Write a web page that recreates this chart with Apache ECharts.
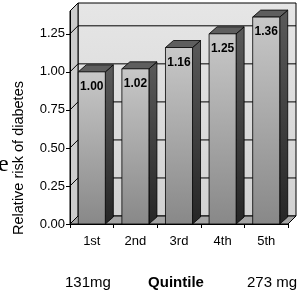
<!DOCTYPE html>
<html>
<head>
    <meta charset="utf-8" />
    <title></title>
    <style>
        html, body { margin: 0; padding: 0; background: #fff; }
        #barchart { width: 301px; height: 296px; }
    </style>
</head>
<body>
    <div id="barchart"></div>
    <script src="https://cdn.jsdelivr.net/npm/echarts@6/dist/echarts.min.js"></script>
    <script>
        var quintiles = ['1st', '2nd', '3rd', '4th', '5th'];
        var risks = [1.00, 1.02, 1.16, 1.25, 1.36];
        var yTicks = [0, 0.25, 0.5, 0.75, 1.0, 1.25];

        var FONT = '"Liberation Sans", Arial, sans-serif';
        // depth of the box (walls) and of the bars
        var WX = 8, WY = -8;
        var BX = 8, BY = -7;

        function renderWalls(params, api) {
            var cs = params.coordSys;
            var x0 = cs.x, x1 = cs.x + cs.width;
            var y0 = api.coord([0, 0])[1], yt = cs.y;
            var kids = [];
            // back wall
            kids.push({
                type: 'polygon',
                shape: { points: [[x0 + WX, yt + WY], [x1 + WX, yt + WY], [x1 + WX, y0 + WY], [x0 + WX, y0 + WY]] },
                style: {
                    fill: new echarts.graphic.LinearGradient(0, 0, 0, 1, [
                        { offset: 0, color: '#e6e6e6' }, { offset: 1, color: '#d2d2d2' }]),
                    stroke: '#000', lineWidth: 1
                }
            });
            // left wall
            kids.push({
                type: 'polygon',
                shape: { points: [[x0, y0], [x0, yt], [x0 + WX, yt + WY], [x0 + WX, y0 + WY]] },
                style: { fill: '#cccccc', stroke: '#000', lineWidth: 1 }
            });
            // floor
            kids.push({
                type: 'polygon',
                shape: { points: [[x0, y0], [x1, y0], [x1 + WX, y0 + WY], [x0 + WX, y0 + WY]] },
                style: { fill: '#a4a4a4', stroke: '#000', lineWidth: 1 }
            });
            // gridlines
            yTicks.forEach(function (v) {
                if (v === 0) return;
                var y = api.coord([0, v])[1];
                kids.push({
                    type: 'polyline',
                    shape: { points: [[x0, y], [x0 + WX, y + WY], [x1 + WX, y + WY]] },
                    style: { stroke: '#000', lineWidth: 1, fill: null }
                });
            });
            return { type: 'group', children: kids };
        }

        function renderBar(params, api) {
            var top = api.coord([api.value(0), api.value(1)]);
            var base = api.coord([api.value(0), 0]);
            var w = api.size([1, 0])[0] * 0.62;
            var l = top[0] - w / 2, r = top[0] + w / 2;
            var t = top[1], b = base[1];
            var edge = { stroke: '#000', lineWidth: 0.8 };
            return {
                type: 'group',
                children: [{
                    type: 'polygon',
                    shape: { points: [[r, t], [r + BX, t + BY], [r + BX, b + BY], [r, b]] },
                    style: Object.assign({
                        fill: new echarts.graphic.LinearGradient(0, 0, 0, 1, [
                            { offset: 0, color: '#5a5a5a' }, { offset: 1, color: '#262626' }])
                    }, edge)
                }, {
                    type: 'polygon',
                    shape: { points: [[l, t], [r, t], [r + BX, t + BY], [l + BX, t + BY]] },
                    style: Object.assign({ fill: '#5e5e5e' }, edge)
                }, {
                    type: 'rect',
                    shape: { x: l, y: t, width: w, height: b - t },
                    style: Object.assign({
                        fill: new echarts.graphic.LinearGradient(0, 0, 0, 1, [
                            { offset: 0, color: '#c8c8c8' }, { offset: 1, color: '#888888' }])
                    }, edge)
                }, {
                    type: 'text',
                    x: top[0],
                    y: t + 15,
                    style: {
                        text: api.value(1).toFixed(2),
                        align: 'center',
                        verticalAlign: 'middle',
                        fontFamily: 'Liberation Sans',
                        fontWeight: 'bold',
                        fontSize: 12,
                        fill: '#000'
                    }
                }]
            };
        }

        var barData = risks.map(function (v, i) { return [i, v]; });

        var option = {
            backgroundColor: '#fff',
            animation: false,
            grid: { left: 70, right: 13, top: 11, bottom: 72 },
            xAxis: {
                type: 'category',
                data: quintiles,
                axisLine: { show: true, lineStyle: { color: '#000', width: 1 } },
                axisTick: { show: true, length: 4, lineStyle: { color: '#000' } },
                axisLabel: { color: '#000', fontSize: 13, fontFamily: 'Liberation Sans', margin: 11 },
                z: 10
            },
            yAxis: {
                type: 'value',
                min: 0,
                max: 1.4,
                interval: 0.25,
                axisLine: { show: true, lineStyle: { color: '#000', width: 1 } },
                axisTick: { show: true, length: 4, lineStyle: { color: '#000' }, customValues: yTicks },
                axisLabel: {
                    color: '#000', fontSize: 13, fontFamily: 'Liberation Sans', margin: 5,
                    customValues: yTicks,
                    formatter: function (v) { return v.toFixed(2); }
                },
                splitLine: { show: false },
                z: 10
            },
            series: [{
                type: 'custom',
                renderItem: renderWalls,
                data: [[0, 0]],
                clip: false,
                silent: true,
                z: 1
            }, {
                type: 'custom',
                renderItem: renderBar,
                data: barData,
                encode: { x: 0, y: 1 },
                clip: false,
                z: 2
            }],
            graphic: [{
                type: 'text',
                x: 19, y: 158,
                rotation: Math.PI / 2,
                style: {
                    text: 'Relative risk of diabetes',
                    align: 'center', verticalAlign: 'middle',
                    fontFamily: 'Liberation Sans', fontSize: 14.5, fill: '#000'
                }
            }, {
                type: 'text',
                x: -2, y: 153,
                style: {
                    text: 'e',
                    align: 'left', verticalAlign: 'alphabetic',
                    fontFamily: 'Liberation Serif', fontSize: 24, fill: '#000'
                }
            }, {
                type: 'text',
                x: 65, y: 283,
                style: { text: '131mg', align: 'left', verticalAlign: 'middle', fontFamily: 'Liberation Sans', fontSize: 15, fill: '#000' }
            }, {
                type: 'text',
                x: 176, y: 283,
                style: { text: 'Quintile', align: 'center', verticalAlign: 'middle', fontFamily: 'Liberation Sans', fontWeight: 'bold', fontSize: 15, fill: '#000' }
            }, {
                type: 'text',
                x: 247, y: 283,
                style: { text: '273 mg', align: 'left', verticalAlign: 'middle', fontFamily: 'Liberation Sans', fontSize: 15, fill: '#000' }
            }]
        };

        var barChart = echarts.init(document.getElementById('barchart'));
        barChart.setOption(option);
    </script>
</body>
</html>
